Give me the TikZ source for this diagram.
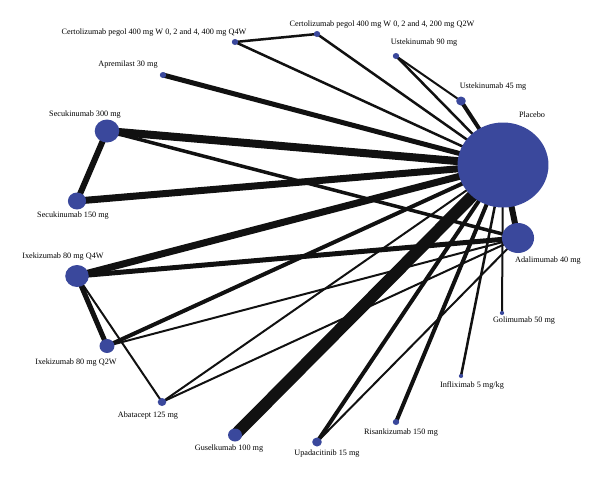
\documentclass[tikz,border=0pt]{standalone}
\usepackage{fontspec}
\setmainfont{Liberation Serif}
\usetikzlibrary{shapes.geometric,backgrounds}
\definecolor{netblue}{RGB}{58,72,156}
\definecolor{netline}{RGB}{17,17,17}

\begin{document}
\begin{tikzpicture}[
x=1pt, y=-1pt,
dot/.style={ellipse, fill=netblue, inner sep=0pt, minimum height=#1, minimum width=1.07*#1},
lbl/.style={font=\fontsize{8.2}{9}\selectfont, inner sep=0pt},
link/.style={draw=netline, line width=#1}
]
\useasboundingbox (0,0) rectangle (600,480);

\node[dot=85] (pla) at (503,165) {};
\node[dot=30] (ada) at (518,238) {};
\node[dot=6] (cert4) at (235,42) {};
\node[dot=6] (cert2) at (317,34) {};
\node[dot=6] (ust90) at (396,56) {};
\node[dot=9] (ust45) at (461,101) {};
\node[dot=6] (apr) at (163,75) {};
\node[dot=23] (sec300) at (107,131) {};
\node[dot=17] (sec150) at (77,201) {};
\node[dot=22] (ixe4) at (77,276) {};
\node[dot=14] (ixe2) at (107,346) {};
\node[dot=8] (aba) at (162,402) {};
\node[dot=13] (gus) at (235,435) {};
\node[dot=9] (upa) at (317,442) {};
\node[dot=6] (ris) at (396,422) {};
\node[dot=4] (inf) at (461,376) {};
\node[dot=4] (gol) at (502,313) {};

\node[lbl] (pla-l) at (532,115) {Placebo};
\node[lbl] (ada-l) at (548,261) {Adalimumab 40 mg};
\node[lbl] (cert4-l) at (154,33) {Certolizumab pegol 400 mg W 0, 2 and 4, 400 mg Q4W};
\node[lbl] (cert2-l) at (382,25) {Certolizumab pegol 400 mg W 0, 2 and 4, 200 mg Q2W};
\node[lbl] (ust90-l) at (424,43) {Ustekinumab 90 mg};
\node[lbl] (ust45-l) at (493,87) {Ustekinumab 45 mg};
\node[lbl] (apr-l) at (128,65) {Apremilast 30 mg};
\node[lbl] (sec300-l) at (85,115) {Secukinumab 300 mg};
\node[lbl] (sec150-l) at (73,216) {Secukinumab 150 mg};
\node[lbl] (ixe4-l) at (63,257) {Ixekizumab 80 mg Q4W};
\node[lbl] (ixe2-l) at (76,363) {Ixekizumab 80 mg Q2W};
\node[lbl] (aba-l) at (148,416) {Abatacept 125 mg};
\node[lbl] (gus-l) at (229,449) {Guselkumab 100 mg};
\node[lbl] (upa-l) at (327,454) {Upadacitinib 15 mg};
\node[lbl] (ris-l) at (401,433) {Risankizumab 150 mg};
\node[lbl] (inf-l) at (472,385) {Infliximab 5 mg/kg};
\node[lbl] (gol-l) at (524,321) {Golimumab 50 mg};

\begin{scope}[on background layer]
\draw[link=12] (pla.center) -- (gus.center);
\draw[link=8] (pla.center) -- (sec300.center);
\draw[link=7] (pla.center) -- (sec150.center);
\draw[link=6] (sec300.center) -- (sec150.center);
\draw[link=3.5] (sec300.center) -- (ada.center);
\draw[link=7] (pla.center) -- (ixe4.center);
\draw[link=5] (ixe4.center) -- (ada.center);
\draw[link=5] (ixe4.center) -- (ixe2.center);
\draw[link=2] (ixe4.center) -- (aba.center);
\draw[link=4] (ixe2.center) -- (pla.center);
\draw[link=2] (ixe2.center) -- (ada.center);
\draw[link=2] (aba.center) -- (pla.center);
\draw[link=2] (aba.center) -- (ada.center);
\draw[link=5] (pla.center) -- (apr.center);
\draw[link=2.5] (pla.center) -- (cert4.center);
\draw[link=2.5] (pla.center) -- (cert2.center);
\draw[link=2.5] (cert4.center) -- (cert2.center);
\draw[link=2.5] (pla.center) -- (ust90.center);
\draw[link=2] (ust90.center) -- (ust45.center);
\draw[link=4] (pla.center) -- (ust45.center);
\draw[link=6] (pla.center) -- (ada.center);
\draw[link=2] (pla.center) -- (gol.center);
\draw[link=2.5] (pla.center) -- (inf.center);
\draw[link=4] (pla.center) -- (ris.center);
\draw[link=4] (pla.center) -- (upa.center);
\draw[link=2] (upa.center) -- (ada.center);
\end{scope}
\end{tikzpicture}
\end{document}
